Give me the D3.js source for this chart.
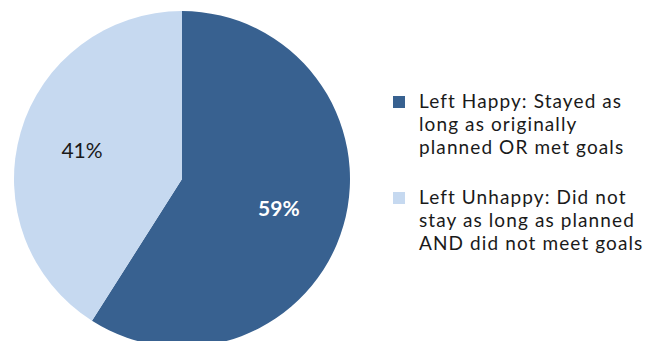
<!DOCTYPE html>
<html>
<head>
<meta charset="utf-8">
<script src="https://cdn.jsdelivr.net/npm/d3@7"></script>
<style>
  html, body { margin: 0; padding: 0; background: #fff; }
  svg { display: block; }
  text { font-family: Lato, "Open Sans", "Liberation Sans", sans-serif; }
</style>
</head>
<body>
<svg id="chart" width="652" height="341"></svg>
<script>
// Outcome categories and their shares (percent)
const categories = ["Left Happy", "Left Unhappy"];
const values = [59, 41];
const legendLines = [
  ["Left Happy: Stayed as", "long as originally", "planned OR met goals"],
  ["Left Unhappy: Did not", "stay as long as planned", "AND did not meet goals"]
];
const colors = ["#386190", "#C6D9F0"];

const svg = d3.select("#chart");
const cx = 182, cy = 179, r = 168;

const pie = d3.pie().sort(null).value(d => d)(values);
const arc = d3.arc().innerRadius(0).outerRadius(r);

const g = svg.append("g").attr("transform", `translate(${cx},${cy})`);
g.selectAll("path")
  .data(pie)
  .join("path")
  .attr("d", arc)
  .attr("fill", (d, i) => colors[i]);

// Percentage labels inside each slice
const labelStyles = [
  { fill: "#ffffff", weight: "bold", radius: 0.6 },
  { fill: "#1a1a1a", weight: "normal", radius: 0.62 }
];
g.selectAll("text.pct")
  .data(pie)
  .join("text")
  .attr("class", "pct")
  .attr("transform", (d, i) => {
    const a = d3.arc().innerRadius(r * labelStyles[i].radius).outerRadius(r * labelStyles[i].radius);
    const [x, y] = a.centroid(d);
    return `translate(${x},${y})`;
  })
  .attr("text-anchor", "middle")
  .attr("dominant-baseline", "central")
  .attr("font-size", 21)
  .attr("font-weight", (d, i) => labelStyles[i].weight)
  .attr("fill", (d, i) => labelStyles[i].fill)
  .text(d => d.data + "%");

// Legend: swatch plus three wrapped lines per entry
const legend = svg.append("g").attr("transform", "translate(393,96)");
const items = legend.selectAll("g.item")
  .data(categories)
  .join("g")
  .attr("class", "item")
  .attr("transform", (d, i) => `translate(0,${i * 96})`);
items.append("rect")
  .attr("width", 12).attr("height", 12)
  .attr("fill", (d, i) => colors[i]);
items.each(function (d, i) {
  d3.select(this).selectAll("text.line")
    .data(legendLines[i])
    .join("text")
    .attr("class", "line")
    .attr("x", 26)
    .attr("y", (t, j) => 11.5 + j * 23)
    .attr("font-size", 19)
    .attr("letter-spacing", 1.1)
    .attr("fill", "#1a1a1a")
    .text(t => t);
});
</script>
</body>
</html>
